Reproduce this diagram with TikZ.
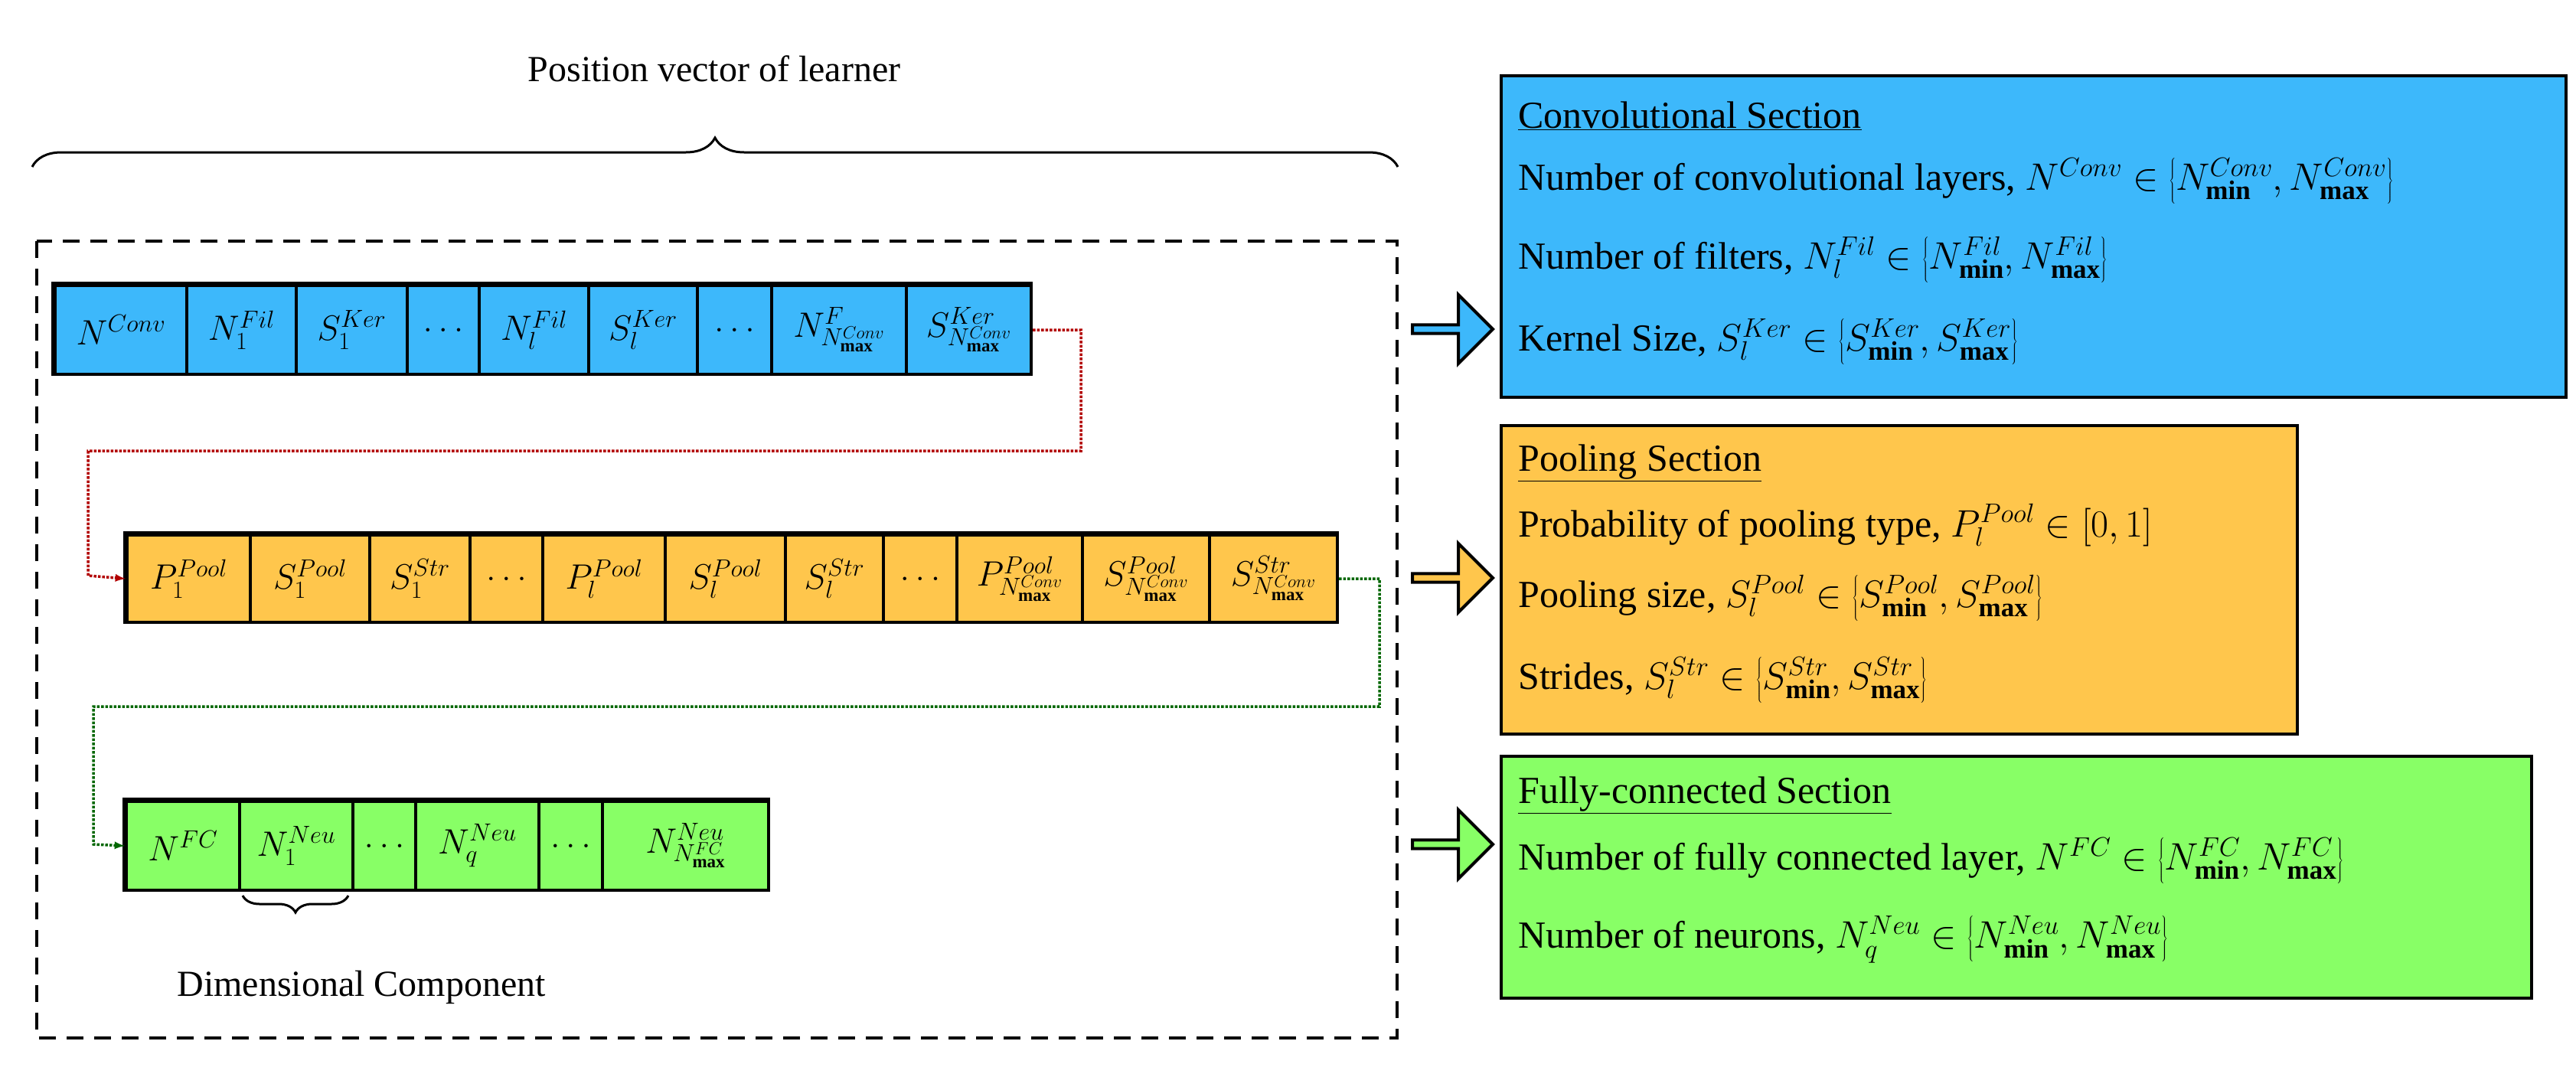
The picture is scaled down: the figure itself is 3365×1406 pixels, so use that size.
\RequirePackage{fix-cm}
\documentclass[tikz,border=0pt]{standalone}
\usepackage{fontspec}
\setmainfont{Liberation Serif}
\usetikzlibrary{shapes.arrows,decorations.pathreplacing}
\definecolor{cb}{HTML}{3DB8FB}
\definecolor{co}{HTML}{FFC64C}
\definecolor{cg}{HTML}{88FF66}
\newcommand\mx{_{\mathbf{max}}}
\newcommand\mn{_{\mathbf{min}}}
\begin{document}
\begin{tikzpicture}[x=1pt,y=-1pt,
  cell/.style={draw=black,line width=4pt,inner sep=0pt,anchor=north west,font=\fontsize{46}{50}\selectfont},
  row/.style={draw=black,line width=7pt},
  sec/.style={draw=black,line width=4pt,anchor=north west,inner sep=0pt},
  txt/.style={anchor=west,font=\fontsize{50}{54}\selectfont,inner sep=0pt},
  barrow/.style={single arrow,draw=black,line width=4pt,minimum height=105pt,minimum width=90pt,single arrow head extend=14pt,inner sep=0pt,anchor=west}]
\useasboundingbox (0,0) rectangle (3365,1406);
% title and brace
\node[font=\fontsize{48}{52}\selectfont] (title) at (933,90) {Position vector of learner};
\draw[line width=3pt,decoration={brace,amplitude=38pt},decorate] (42,218) -- (1826,218);
% dashed frame
\draw[line width=4pt,dash pattern=on 22pt off 14pt] (48,315) rectangle (1825,1356);
% blue row
\draw[row,fill=cb] (70,371) rectangle (1345,487);
\foreach \a/\b/\t/\n in {70/242/{$N^{Conv}$}/b1,242/385/{$N^{Fil}_1$}/b2,385/530/{$S^{Ker}_1$}/b3,530/624/{$\dots$}/b4,624/767/{$N^{Fil}_l$}/b5,767/909/{$S^{Ker}_l$}/b6,909/1006/{$\dots$}/b7,1006/1182/{$N^{F}_{N^{Conv}\mx}$}/b8,1182/1345/{$S^{Ker}_{N^{Conv}\mx}$}/b9}
  \node[cell,fill=cb,minimum width=\b-\a,minimum height=116pt] (\n) at (\a,371) {\t};
% orange row
\draw[row,fill=co] (164,697) rectangle (1745,811);
\foreach \a/\b/\t/\n in {164/325/{$P^{Pool}_1$}/o1,325/481/{$S^{Pool}_1$}/o2,481/612/{$S^{Str}_1$}/o3,612/707/{$\dots$}/o4,707/867/{$P^{Pool}_l$}/o5,867/1024/{$S^{Pool}_l$}/o6,1024/1152/{$S^{Str}_l$}/o7,1152/1248/{$\dots$}/o8,1248/1412/{$P^{Pool}_{N^{Conv}\mx}$}/o9,1412/1578/{$S^{Pool}_{N^{Conv}\mx}$}/o10,1578/1745/{$S^{Str}_{N^{Conv}\mx}$}/o11}
  \node[cell,fill=co,minimum width=\b-\a,minimum height=114pt] (\n) at (\a,697) {\t};
% green row
\draw[row,fill=cg] (163,1045) rectangle (1002,1161);
\foreach \a/\b/\t/\n in {163/311/{$N^{FC}$}/g1,311/459/{$N^{Neu}_1$}/g2,459/541/{$\dots$}/g3,541/702/{$N^{Neu}_q$}/g4,702/785/{$\dots$}/g5,785/1002/{$N^{Neu}_{N^{FC}\mx}$}/g6}
  \node[cell,fill=cg,minimum width=\b-\a,minimum height=116pt] (\n) at (\a,1045) {\t};
% connectors
\coordinate (r1) at (1412,589);
\coordinate (r2) at (115,752);
\draw[red!70!black,line width=3.5pt,dotted,-latex] (b9.east) -| (r1) -| (r2) -- (o1.west);
\coordinate (k1) at (1802,923);
\coordinate (k2) at (122,1103);
\draw[green!40!black,line width=3.5pt,dotted,-latex] (o11.east) -| (k1) -| (k2) -- (g1.west);
% small brace
\draw[line width=3pt,decoration={brace,mirror,amplitude=22pt},decorate] (317,1170) -- (455,1170);
\node[font=\fontsize{48}{52}\selectfont] (dim) at (472,1290) {Dimensional Component};
% sections
\node[sec,fill=cb,minimum width=1391pt,minimum height=420pt] (sb) at (1959,97) {};
\node[sec,fill=co,minimum width=1040pt,minimum height=403pt] (so) at (1959,554) {};
\node[sec,fill=cg,minimum width=1346pt,minimum height=316pt] (sg) at (1959,986) {};
\node[txt] (tb0) at (1983,151) {\underline{Convolutional Section}};
\node[txt] (tb1) at (1983,236) {Number of convolutional layers, $N^{Conv}\in\left\{N^{Conv}\mn,N^{Conv}\mx\right\}$};
\node[txt] (tb2) at (1983,339) {Number of filters, $N^{Fil}_l\in\left\{N^{Fil}\mn,N^{Fil}\mx\right\}$};
\node[txt] (tb3) at (1983,446) {Kernel Size, $S^{Ker}_l\in\left\{S^{Ker}\mn,S^{Ker}\mx\right\}$};
\node[txt] (to0) at (1983,605) {\underline{Pooling Section}};
\node[txt] (to1) at (1983,686) {Probability of pooling type, $P^{Pool}_l\in\left[0,1\right]$};
\node[txt] (to2) at (1983,781) {Pooling size, $S^{Pool}_l\in\left\{S^{Pool}\mn,S^{Pool}\mx\right\}$};
\node[txt] (to3) at (1983,888) {Strides, $S^{Str}_l\in\left\{S^{Str}\mn,S^{Str}\mx\right\}$};
\node[txt] (tg0) at (1983,1039) {\underline{Fully-connected Section}};
\node[txt] (tg1) at (1983,1124) {Number of fully connected layer, $N^{FC}\in\left\{N^{FC}\mn,N^{FC}\mx\right\}$};
\node[txt] (tg2) at (1983,1227) {Number of neurons, $N^{Neu}_q\in\left\{N^{Neu}\mn,N^{Neu}\mx\right\}$};
% block arrows
\node[barrow,fill=cb] (ab) at (1843,430) {};
\node[barrow,fill=co] (ao) at (1843,755) {};
\node[barrow,fill=cg] (ag) at (1843,1103) {};
\end{tikzpicture}
\end{document}
